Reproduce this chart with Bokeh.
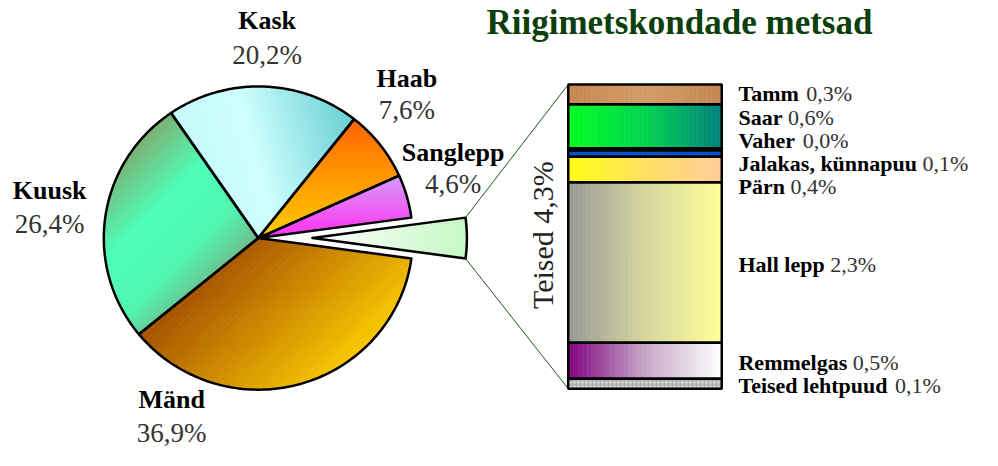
import numpy as np
from bokeh.plotting import figure
from bokeh.models import Range1d
from bokeh.core.properties import value
from bokeh.embed import file_html
from bokeh.resources import INLINE

# ---------------- data ----------------
TITLE = "Riigimetskondade metsad"
pie_labels = ["Teised", "Sanglepp", "Haab", "Kask", "Kuusk", "Mänd"]
pie_values = [4.3, 4.6, 7.6, 20.2, 26.4, 36.9]
bar_labels = ["Tamm", "Saar", "Vaher", "Jalakas, künnapuu", "Pärn",
              "Hall lepp", "Remmelgas", "Teised lehtpuud"]
bar_values = [0.28, 0.62, 0.03, 0.09, 0.36, 2.27, 0.51, 0.14]

# ---------------- layout / style ----------------
W, H = 982, 450          # figure size in px
RW, RH = 998, 466        # design space (original chart pixels)
def sx(x): return x
def sy(y): return RH - y
BASE_SHIFT = 0.36        # em: renderer draws "alphabetic" text this much lower
def tb(Y, fs):           # data y for a wanted baseline at design Y
    return sy(Y) + BASE_SHIFT * fs * RH / H

CX, CY, R, EXPLODE = sx(262), sy(246), 157.0, 55.0
BAR_X0, BAR_X1, BAR_TOP, BAR_BOT = sx(577), sx(733), sy(87), sy(402)
SERIF = value("Liberation Serif")

pie_grad = {
    "Teised":   (0,   [(0, "#FFFFFF"), (1, "#C4F8C4")]),
    "Sanglepp": (-90, [(0, "#D49CF8"), (1, "#FF2EF0")]),
    "Haab":     (-90, [(0, "#FF6400"), (1, "#FFCC00")]),
    "Kask":     (195, [(0, "#66CED2"), (0.6, "#CFFFFF"), (1, "#C4FAFA")]),
    "Kuusk":    (-45, [(0, "#7CAE70"), (0.4, "#4CFFB8"), (0.75, "#50F6B0"), (1, "#6CBE8C")]),
    "Mänd":     (-45, [(0, "#A45000"), (1, "#F8C800")]),
}
bar_grad = {
    "Tamm": [(0, "#C4874F"), (0.5, "#D29C68"), (1, "#C3874F")],
    "Saar": [(0, "#00FF20"), (0.5, "#00D450"), (1, "#00807C")],
    "Vaher": [(0, "#FFFFFF"), (1, "#FFFFFF")],
    "Jalakas, künnapuu": [(0, "#0052C8"), (1, "#0052C8")],
    "Pärn": [(0, "#FFFF10"), (0.5, "#FFE060"), (1, "#FFCC99")],
    "Hall lepp": [(0, "#989896"), (0.5, "#D6D69E"), (1, "#FFFF99")],
    "Remmelgas": [(0, "#800080"), (0.5, "#C6A6C6"), (1, "#FFFFFF")],
}
# pie label anchors (design px): x centre, name baseline, percent baseline
pie_label_pos = {
    "Kask": (271, 30, 66), "Haab": (413, 90, 123), "Sanglepp": (460, 167, 200),
    "Kuusk": (50, 206, 242), "Mänd": (174, 423, 458),
}
PIE_NAME_FS, PIE_PCT_FS, BAR_FS, SIDE_FS, TITLE_FS = 26, 27, 22, 30, 35
TITLE_BASELINE = 36
# Liberation Serif Bold advance widths (em) for bar-label names
BOLD_W = {" ": .25, ",": .25, "a": .5, "d": .556, "e": .444, "g": .5, "h": .556,
          "i": .278, "k": .556, "l": .278, "m": .833, "n": .556, "p": .556,
          "r": .444, "s": .389, "t": .333, "u": .556, "ü": .556, "ä": .5,
          "H": .778, "J": .5, "P": .611, "R": .722, "S": .556, "T": .667, "V": .722}

def hex2rgb(h): return np.array([int(h[i:i + 2], 16) for i in (1, 3, 5)], float)
def grad_color(stops, t):
    for (t0, c0), (t1, c1) in zip(stops[:-1], stops[1:]):
        if t <= t1:
            f = 0 if t1 == t0 else (t - t0) / (t1 - t0)
            c = hex2rgb(c0) * (1 - f) + hex2rgb(c1) * f
            return "#%02x%02x%02x" % tuple(int(round(v)) for v in c)
    return stops[-1][1]

def clip(poly, d, c, ge=True):
    out = []
    n = len(poly)
    for i in range(n):
        P, Q = poly[i], poly[(i + 1) % n]
        fp, fq = np.dot(P, d) - c, np.dot(Q, d) - c
        if not ge: fp, fq = -fp, -fq
        if fp >= 0: out.append(P)
        if (fp >= 0) != (fq >= 0):
            out.append(P + fp / (fp - fq) * (Q - P))
    return out

def fmt(v): return ("%.1f" % v).replace(".", ",") + "%"

p = figure(width=W, height=H, output_backend="svg", toolbar_location=None,
           x_range=Range1d(0, RW), y_range=Range1d(0, RH), min_border=0)
p.axis.visible = False
p.grid.visible = False
p.outline_line_color = None

# ---------------- pie ----------------
tot = sum(pie_values)
start = -np.deg2rad(pie_values[0] / tot * 360 / 2)
angles = []
for lab, v in zip(pie_labels, pie_values):
    a0 = start
    a1 = a0 + v / tot * 2 * np.pi
    start = a1
    angles.append((a0, a1))

centers, outlines_x, outlines_y = [], [], []
for lab, (a0, a1) in zip(pie_labels, angles):
    mid = (a0 + a1) / 2
    off = EXPLODE if lab == "Teised" else 0.0
    cx, cy = CX + off * np.cos(mid), CY + off * np.sin(mid)
    centers.append((cx, cy))
    th = np.linspace(a0, a1, 90)
    poly = [np.array([cx, cy])] + [np.array([cx + R * np.cos(t), cy + R * np.sin(t)]) for t in th]
    outlines_x.append([q[0] for q in poly]); outlines_y.append([q[1] for q in poly])
    ang, stops = pie_grad[lab]
    d = np.array([np.cos(np.deg2rad(ang)), np.sin(np.deg2rad(ang))])
    proj = [np.dot(q, d) for q in poly]
    lo, hi = min(proj), max(proj)
    N = 40
    xs, ys, cols = [], [], []
    for i in range(N):
        c0 = lo + (hi - lo) * i / N
        c1 = lo + (hi - lo) * (i + 1) / N
        band = clip(clip(poly, d, c0, True), d, c1, False)
        if len(band) < 3: continue
        xs.append([q[0] for q in band]); ys.append([q[1] for q in band])
        cols.append(grad_color(stops, (i + 0.5) / N))
    p.patches(xs, ys, fill_color=cols, line_color=cols, line_width=0.8)

p.patches(outlines_x, outlines_y, fill_alpha=0, line_color="black",
          line_width=2.5, line_join="round")

for lab, v in zip(pie_labels, pie_values):
    if lab not in pie_label_pos: continue
    x, yb1, yb2 = pie_label_pos[lab]
    p.text(x=[sx(x)], y=[tb(yb1, PIE_NAME_FS)], text=[lab], text_font=SERIF,
           text_font_style="bold", text_font_size=value(f"{PIE_NAME_FS}px"),
           text_align="center", text_baseline="alphabetic", text_color="black")
    p.text(x=[sx(x)], y=[tb(yb2, PIE_PCT_FS)], text=[fmt(v)], text_font=SERIF,
           text_font_size=value(f"{PIE_PCT_FS}px"), text_align="center",
           text_baseline="alphabetic", text_color="#333333")

# ---------------- bar of pie ----------------
btot = sum(bar_values)
scale = (BAR_TOP - BAR_BOT) / btot
tops = BAR_TOP - np.concatenate([[0], np.cumsum(bar_values)[:-1]]) * scale
bots = tops - np.array(bar_values) * scale

NS = 60
for lab, t, b in zip(bar_labels, tops, bots):
    if lab in bar_grad:
        edges = np.linspace(BAR_X0, BAR_X1, NS + 1)
        cols = [grad_color(bar_grad[lab], (i + 0.5) / NS) for i in range(NS)]
        p.quad(left=edges[:-1], right=edges[1:], top=t, bottom=b,
               fill_color=cols, line_color=cols, line_width=0.6)
    else:
        p.quad(left=BAR_X0, right=BAR_X1, top=t, bottom=b, fill_color="#B4B4B4",
               line_color=None, hatch_pattern="dot", hatch_color="#F0F0F0",
               hatch_scale=4, hatch_weight=1.5)
p.quad(left=BAR_X0, right=BAR_X1, top=tops, bottom=bots, fill_alpha=0,
       line_color="black", line_width=2.5)

# label positions: spread segment centres (design px, downward) to avoid overlap
cent = [RH - (t + b) / 2 for t, b in zip(tops, bots)]
GAP = 24.0
blocks = []
for c in cent:
    blocks.append([1, c])
    while len(blocks) > 1:
        (n1, m1), (n2, m2) = blocks[-2], blocks[-1]
        if (m2 - (n2 - 1) / 2 * GAP) - (m1 + (n1 - 1) / 2 * GAP) < GAP:
            blocks[-2:] = [[n1 + n2, (m1 * n1 + m2 * n2) / (n1 + n2)]]
        else:
            break
pos = []
for n, m in blocks:
    pos += [m + (k - (n - 1) / 2) * GAP for k in range(n)]

LX = sx(750)
for lab, v, yc in zip(bar_labels, bar_values, pos):
    yb = tb(yc + 10, BAR_FS)
    p.text(x=[LX], y=[yb], text=[lab], text_font=SERIF, text_font_style="bold",
           text_font_size=value(f"{BAR_FS}px"), text_align="left",
           text_baseline="alphabetic", text_color="black")
    wname = sum(BOLD_W.get(ch, .5) for ch in lab + " ") * BAR_FS * RW / W
    p.text(x=[LX + wname], y=[yb], text=[fmt(v)], text_font=SERIF,
           text_font_size=value(f"{BAR_FS}px"), text_align="left",
           text_baseline="alphabetic", text_color="#333333")

# connector lines
ti = pie_labels.index("Teised")
tcx, tcy = centers[ti]
a0, a1 = angles[ti]
p.segment(x0=[tcx + R * np.cos(a1), tcx + R * np.cos(a0)],
          y0=[tcy + R * np.sin(a1), tcy + R * np.sin(a0)],
          x1=[BAR_X0, BAR_X0], y1=[BAR_TOP, BAR_BOT], line_color="#1E5A1E", line_width=1)

# "Teised 4,3%" rotated label (baseline on the right side of the glyphs)
p.text(x=[sx(562) - BASE_SHIFT * SIDE_FS * RW / W], y=[sy(243)],
       text=["Teised " + fmt(pie_values[ti])],
       angle=np.pi / 2, text_font=SERIF, text_font_size=value(f"{SIDE_FS}px"),
       text_align="center", text_baseline="alphabetic", text_color="#222222")

# title
p.text(x=[sx(690)], y=[tb(TITLE_BASELINE, TITLE_FS)], text=[TITLE], text_font=SERIF,
       text_font_style="bold", text_font_size=value(f"{TITLE_FS}px"), text_align="center",
       text_baseline="alphabetic", text_color="#0B400B")

open("out.html", "w").write(file_html(p, INLINE))
